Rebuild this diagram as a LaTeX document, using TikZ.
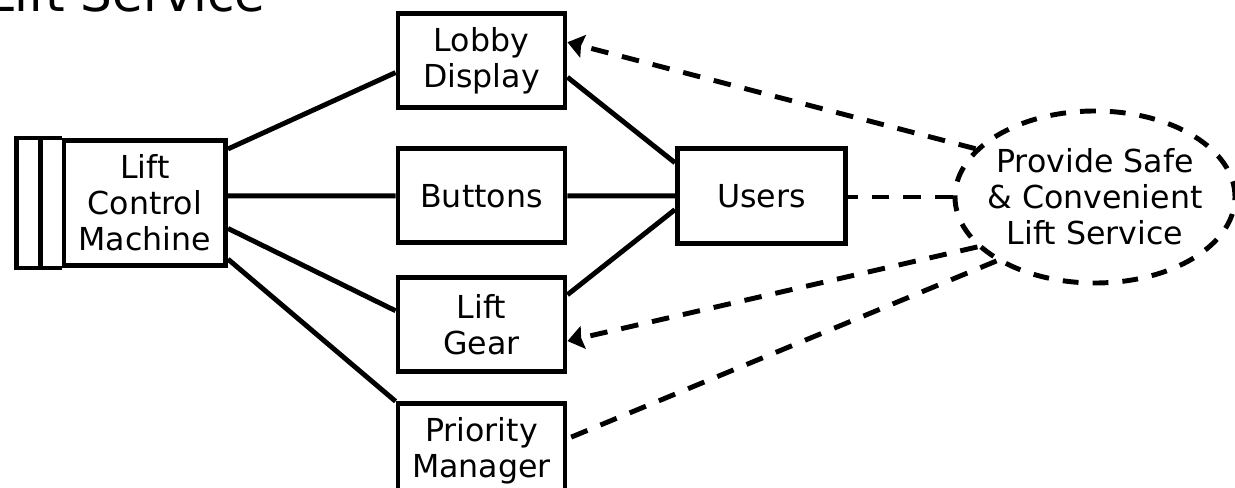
\documentclass[tikz,border=0pt]{standalone}
\usepackage{fontspec}
\setmainfont{DejaVu Sans}
\usetikzlibrary{positioning, shapes.geometric, arrows.meta}

\begin{document}
\begin{tikzpicture}[
	font=\fontsize{18}{20.5}\selectfont,
	unit/.style={draw, line width=2.8pt, minimum width=3.34cm, minimum height=1.88cm, align=center, inner sep=0pt},
	goal/.style={draw, ellipse, line width=2.8pt, dash pattern=on 9pt off 8pt, minimum width=5.6cm, minimum height=3.44cm, inner xsep=-0.25cm, inner ysep=0pt, align=center},
	link/.style={line width=2.8pt},
	trace/.style={line width=2.8pt, dash pattern=on 10pt off 8pt}
]
	\useasboundingbox (0,0) rectangle (24.7,-9.76);
	\clip (0,0) rectangle (24.7,-9.76);

	\node[anchor=base east, inner sep=0pt, font=\fontsize{28.5}{34}\selectfont] (title) at (5.32,-0.24) {Lift Service};

	\node[unit, minimum width=3.23cm, minimum height=2.5cm] (machine) at (2.895,-4.06) {Lift\\Control\\Machine};
	\node[unit] (lobby) at (9.63,-1.21) {Lobby\\Display};
	\node[unit, below=0.73cm of lobby] (buttons) {Buttons};
	\node[unit, below=0.59cm of buttons] (gear) {Lift\\Gear};
	\node[unit, below=0.55cm of gear] (priority) {Priority\\Manager};
	\node[unit, minimum width=3.36cm, minimum height=1.9cm, right=2.15cm of buttons] (users) {Users};
	\node[goal] (service) at (21.9,-3.94) {Provide Safe\\\& Convenient\\Lift Service};

	\draw[link] (machine.north west) -- ++(-0.9,0) |- (machine.south west);
	\draw[link] ([xshift=-0.43cm]machine.north west) -- ([xshift=-0.43cm]machine.south west);

	\draw[link]
	(machine.33) -- (lobby.188)
	(machine.east |- buttons.west) -- (buttons.west)
	(machine.-17) -- (gear.171)
	(machine.-34) -- (priority.north west)
	(lobby.-11) -- (users.159)
	(buttons.east) -- (users.west)
	(gear.19) -- (users.189);

	\draw[trace, >={Stealth[length=0.32cm, width=0.46cm, inset=0.04cm]}]
	(service.158.6) edge[->] (lobby.12)
	(service.west) edge (service.west -| users.east)
	(service.203.8) edge[->] (gear.-11)
	(service.213.6) edge (priority.8);

\end{tikzpicture}
\end{document}
